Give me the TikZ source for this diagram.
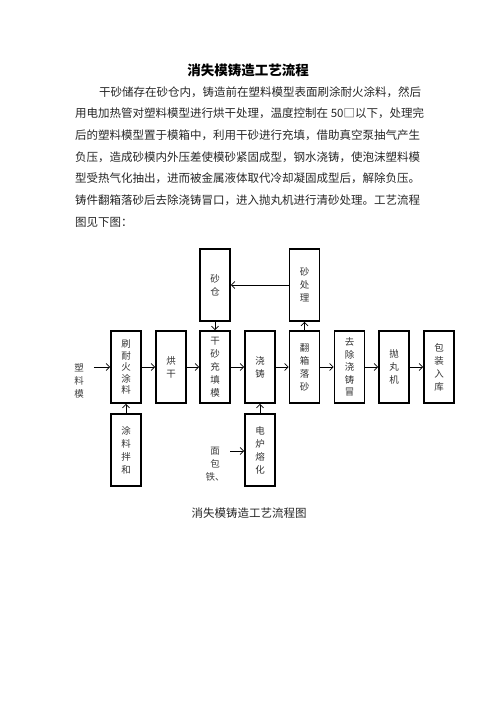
\documentclass[tikz,border=0pt]{standalone}
\usepackage{fontspec}
\newfontfamily\cjk{Noto Sans CJK SC}
\usetikzlibrary{arrows.meta}
\begin{document}
\begin{tikzpicture}[x=1pt,y=-1pt,
  para/.style={anchor=west,inner sep=0pt,font=\cjk\fontsize{11.5}{13}\selectfont,text=black!85},
  proc/.style={draw,line width=1.6pt,minimum width=30pt,minimum height=72pt,inner sep=0pt,align=center,font=\cjk\fontsize{9.5}{13}\selectfont,text=black!80},
  lbl/.style={inner sep=0pt,align=center,font=\cjk\fontsize{9.5}{13}\selectfont,text=black!75},
  arr/.style={line width=0.8pt,-{Straight Barb[length=3.5pt,width=7pt]}}]
\useasboundingbox (0,0) rectangle (496,702);
% title
\node[inner sep=0pt,font=\cjk\bfseries\fontsize{13.5}{15}\selectfont] (title) at (248,70) {消失模铸造工艺流程};
% paragraph
\node[para] (p1) at (99,92) {干砂储存在砂仓内，铸造前在塑料模型表面刷涂耐火涂料，然后};
\node[para] (p2) at (75,113) {用电加热管对塑料模型进行烘干处理，温度控制在 50□以下，处理完};
\node[para] (p3) at (75,135) {后的塑料模型置于模箱中，利用干砂进行充填，借助真空泵抽气产生};
\node[para] (p4) at (75,157) {负压，造成砂模内外压差使模砂紧固成型，钢水浇铸，使泡沫塑料模};
\node[para] (p5) at (75,178) {型受热气化抽出，进而被金属液体取代冷却凝固成型后，解除负压。};
\node[para] (p6) at (75,200) {铸件翻箱落砂后去除浇铸冒口，进入抛丸机进行清砂处理。工艺流程};
\node[para] (p7) at (75,222) {图见下图：};
% boxes
\node[proc] (sc) at (215,285) {砂\\仓};
\node[proc] (scl) at (304.5,285) {砂\\处\\理};
\node[proc,font=\cjk\fontsize{9.5}{11.5}\selectfont] (b1) at (126,367) {刷\\耐\\火\\涂\\料};
\node[proc] (b2) at (171,367) {烘\\干};
\node[proc] (b3) at (215,367) {干\\砂\\充\\填\\模};
\node[proc] (b4) at (260,367) {浇\\铸};
\node[proc] (b5) at (304.5,367) {翻\\箱\\落\\砂};
\node[proc,font=\cjk\fontsize{9.5}{12.5}\selectfont] (b6) at (349.5,367) {去\\除\\浇\\铸\\冒};
\node[proc] (b7) at (394,367) {抛\\丸\\机};
\node[proc] (b8) at (439,367) {包\\装\\入\\库};
\node[proc] (tl) at (126,450) {涂\\料\\拌\\和};
\node[proc] (dl) at (260,450) {电\\炉\\熔\\化};
% labels
\node[lbl] (sl) at (79,381) {塑\\料\\模};
\node[lbl] (mb) at (215,464) {面\\包\\铁、};
\coordinate (ma) at (230,451);
% arrows
\draw[arr] ([xshift=10pt]sl.east |- b1.west) -- (b1.west);
\draw[arr] (b1.east) -- (b2.west);
\draw[arr] (b2.east) -- (b3.west);
\draw[arr] (b3.east) -- (b4.west);
\draw[arr] (b4.east) -- (b5.west);
\draw[arr] (b5.east) -- (b6.west);
\draw[arr] (b6.east) -- (b7.west);
\draw[arr] (b7.east) -- (b8.west);
\draw[arr] (scl.west) -- (sc.east);
\draw[arr] (sc.south) -- (b3.north);
\draw[arr] (b5.north) -- (scl.south);
\draw[arr] (tl.north) -- (b1.south);
\draw[arr] (dl.north) -- (b4.south);
\draw[arr] (ma) -- (ma -| dl.west);
% caption
\node[inner sep=0pt,font=\cjk\fontsize{11.5}{13}\selectfont,text=black!85] (cap) at (249,513) {消失模铸造工艺流程图};
\end{tikzpicture}
\end{document}
